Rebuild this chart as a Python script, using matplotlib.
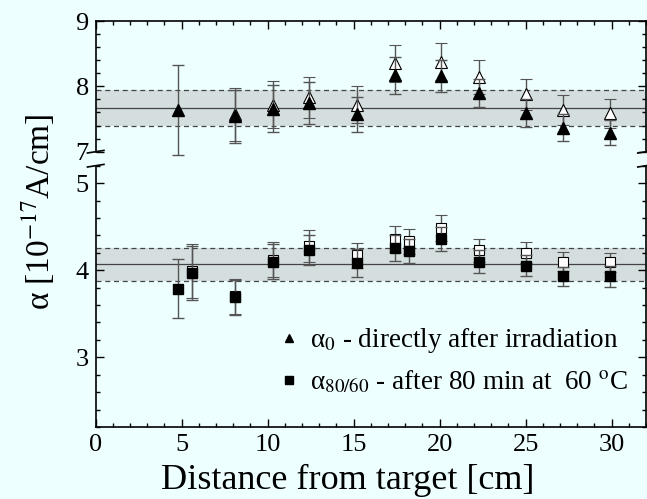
import matplotlib
matplotlib.use("Agg")
import matplotlib.pyplot as plt
from matplotlib.ticker import MultipleLocator
from matplotlib.lines import Line2D

SERIF = 'Liberation Serif'
plt.rcParams['font.family'] = SERIF
plt.rcParams['mathtext.fontset'] = 'stix'

# alpha_0 (triangles), upper panel
x_a0 = [4.8, 8.1, 10.3, 12.4, 15.2, 17.4, 20.1, 22.3, 25.0, 27.2, 29.9]
a0_filled = [7.64, 7.54, 7.66, 7.74, 7.57, 8.17, 8.16, 7.90, 7.59, 7.37, 7.29]
a0_filled_err = [0.69, 0.41, 0.36, 0.32, 0.27, 0.28, 0.25, 0.21, 0.21, 0.21, 0.19]
x_a0_open = [8.1, 10.3, 12.4, 15.2, 17.4, 20.1, 22.3, 25.0, 27.2, 29.9]
a0_open = [7.57, 7.72, 7.83, 7.72, 8.35, 8.38, 8.15, 7.88, 7.64, 7.59]
a0_open_err = [0.41, 0.36, 0.32, 0.28, 0.29, 0.29, 0.26, 0.24, 0.23, 0.22]
a0_mean, a0_lo, a0_hi = 7.67, 7.39, 7.95

# alpha_80/60 (squares), lower panel
x_a80 = [4.8, 5.6, 8.1, 10.3, 12.4, 15.2, 17.4, 18.2, 20.1, 22.3, 25.0, 27.2, 29.9]
a80_filled = [3.79, 3.97, 3.69, 4.10, 4.23, 4.08, 4.26, 4.22, 4.36, 4.10, 4.05, 3.93, 3.93]
a80_filled_err = [0.335, 0.31, 0.2, 0.2, 0.17, 0.16, 0.15, 0.14, 0.14, 0.13, 0.12, 0.11, 0.12]
x_a80_open = [5.6, 8.1, 10.3, 12.4, 15.2, 17.4, 18.2, 20.1, 22.3, 25.0, 27.2, 29.9]
a80_open = [3.99, 3.70, 4.12, 4.28, 4.17, 4.36, 4.33, 4.48, 4.23, 4.20, 4.10, 4.09]
a80_open_err = [0.31, 0.2, 0.2, 0.18, 0.14, 0.15, 0.14, 0.15, 0.13, 0.12, 0.11, 0.11]
a80_mean, a80_lo, a80_hi = 4.07, 3.88, 4.26

bg = '#eeffff'
W, H = 647, 499
fig = plt.figure(figsize=(W / 100, H / 100), dpi=100, facecolor=bg)

def px_axes(x0, y0, x1, y1):
    return fig.add_axes([x0 / W, 1 - y1 / H, (x1 - x0) / W, (y1 - y0) / H])

ax_top = px_axes(95.7, 21, 646, 151.7)
ax_bot = px_axes(95.7, 165.7, 646, 427)

err_kw = dict(ecolor='#555555', elinewidth=1.0, capsize=4, capthick=1.0,
              linestyle='none', clip_on=False)

for ax, band in [(ax_top, (a0_mean, a0_lo, a0_hi)),
                 (ax_bot, (a80_mean, a80_lo, a80_hi))]:
    ax.set_facecolor(bg)
    ax.set_xlim(0, 32)
    ax.axhspan(band[1], band[2], facecolor='#d4dede', edgecolor='none', zorder=0)
    ax.axhline(band[0], color='#444444', lw=0.9, zorder=1)
    ax.axhline(band[1], color='#444444', lw=0.9, ls=(0, (4, 3)), zorder=1)
    ax.axhline(band[2], color='#444444', lw=0.9, ls=(0, (4, 3)), zorder=1)
    ax.xaxis.set_major_locator(MultipleLocator(5))
    ax.xaxis.set_minor_locator(MultipleLocator(1))
    ax.yaxis.set_minor_locator(MultipleLocator(0.2))
    ax.tick_params(which='both', direction='in', right=True, labelsize=19, width=1,
                   labelfontfamily=SERIF)
    ax.tick_params(which='major', length=6)
    ax.tick_params(which='minor', length=3)
    ax.tick_params(axis='y', pad=5)
    for s in ax.spines.values():
        s.set_linewidth(1.2)

# upper panel
ax_top.errorbar(x_a0_open, a0_open, yerr=a0_open_err, marker='^', ms=8,
                mfc='white', mec='black', mew=0.8, zorder=3, **err_kw)
ax_top.errorbar(x_a0, a0_filled, yerr=a0_filled_err, marker='^', ms=8,
                mfc='black', mec='black', zorder=4, **err_kw)
ax_top.set_ylim(7, 9)
ax_top.yaxis.set_major_locator(MultipleLocator(1))
ax_top.spines['bottom'].set_visible(False)
ax_top.tick_params(which='both', bottom=False, top=True, labelbottom=False)

# lower panel
ax_bot.errorbar(x_a80_open, a80_open, yerr=a80_open_err, marker='s', ms=7.5,
                mfc='white', mec='black', mew=0.8, zorder=3, **err_kw)
ax_bot.errorbar(x_a80, a80_filled, yerr=a80_filled_err, marker='s', ms=7.5,
                mfc='black', mec='black', zorder=4, **err_kw)
ax_bot.set_ylim(2.2, 5.2)
ax_bot.yaxis.set_major_locator(MultipleLocator(1))
ax_bot.spines['top'].set_visible(False)
ax_bot.tick_params(which='both', top=False)
ax_bot.tick_params(axis='x', pad=5)

# break marks
for ax, yb, dy in [(ax_top, 0.0, 0.010), (ax_bot, 1.0, 0.005)]:
    for xb in (0.0, 1.0):
        ax.plot([xb - 0.015, xb + 0.015], [yb - dy, yb + dy],
                transform=ax.transAxes, color='black', lw=1.2, clip_on=False)

# legend
handles = [Line2D([], [], marker='^', color='black', ls='none', ms=6),
           Line2D([], [], marker='s', color='black', ls='none', ms=6)]
labels = ['α$_0$ - directly after irradiation',
          'α$_{80/60}$ - after 80 min at  60 $^{\\mathrm{o}}$C']
leg = fig.legend(handles, labels, loc='upper left',
                 bbox_to_anchor=(278 / W, 1 - 326 / H),
                 frameon=False, prop={'family': SERIF, 'size': 19.5},
                 handlelength=0.8, handletextpad=0.4,
                 labelspacing=0.5, borderpad=0, borderaxespad=0)
for t in leg.get_texts():
    t.set_math_fontfamily('stix')

fig.text(348 / W, 1 - 480 / H, 'Distance from target [cm]',
         ha='center', va='center', fontsize=26, family=SERIF)
fig.text(38 / W, 1 - 212 / H, 'α [10$^{\\mathrm{-17}}$A/cm]', rotation=90,
         ha='center', va='center', fontsize=24, family=SERIF, math_fontfamily='stix')

fig.savefig('out.png', dpi=100, facecolor=bg)
